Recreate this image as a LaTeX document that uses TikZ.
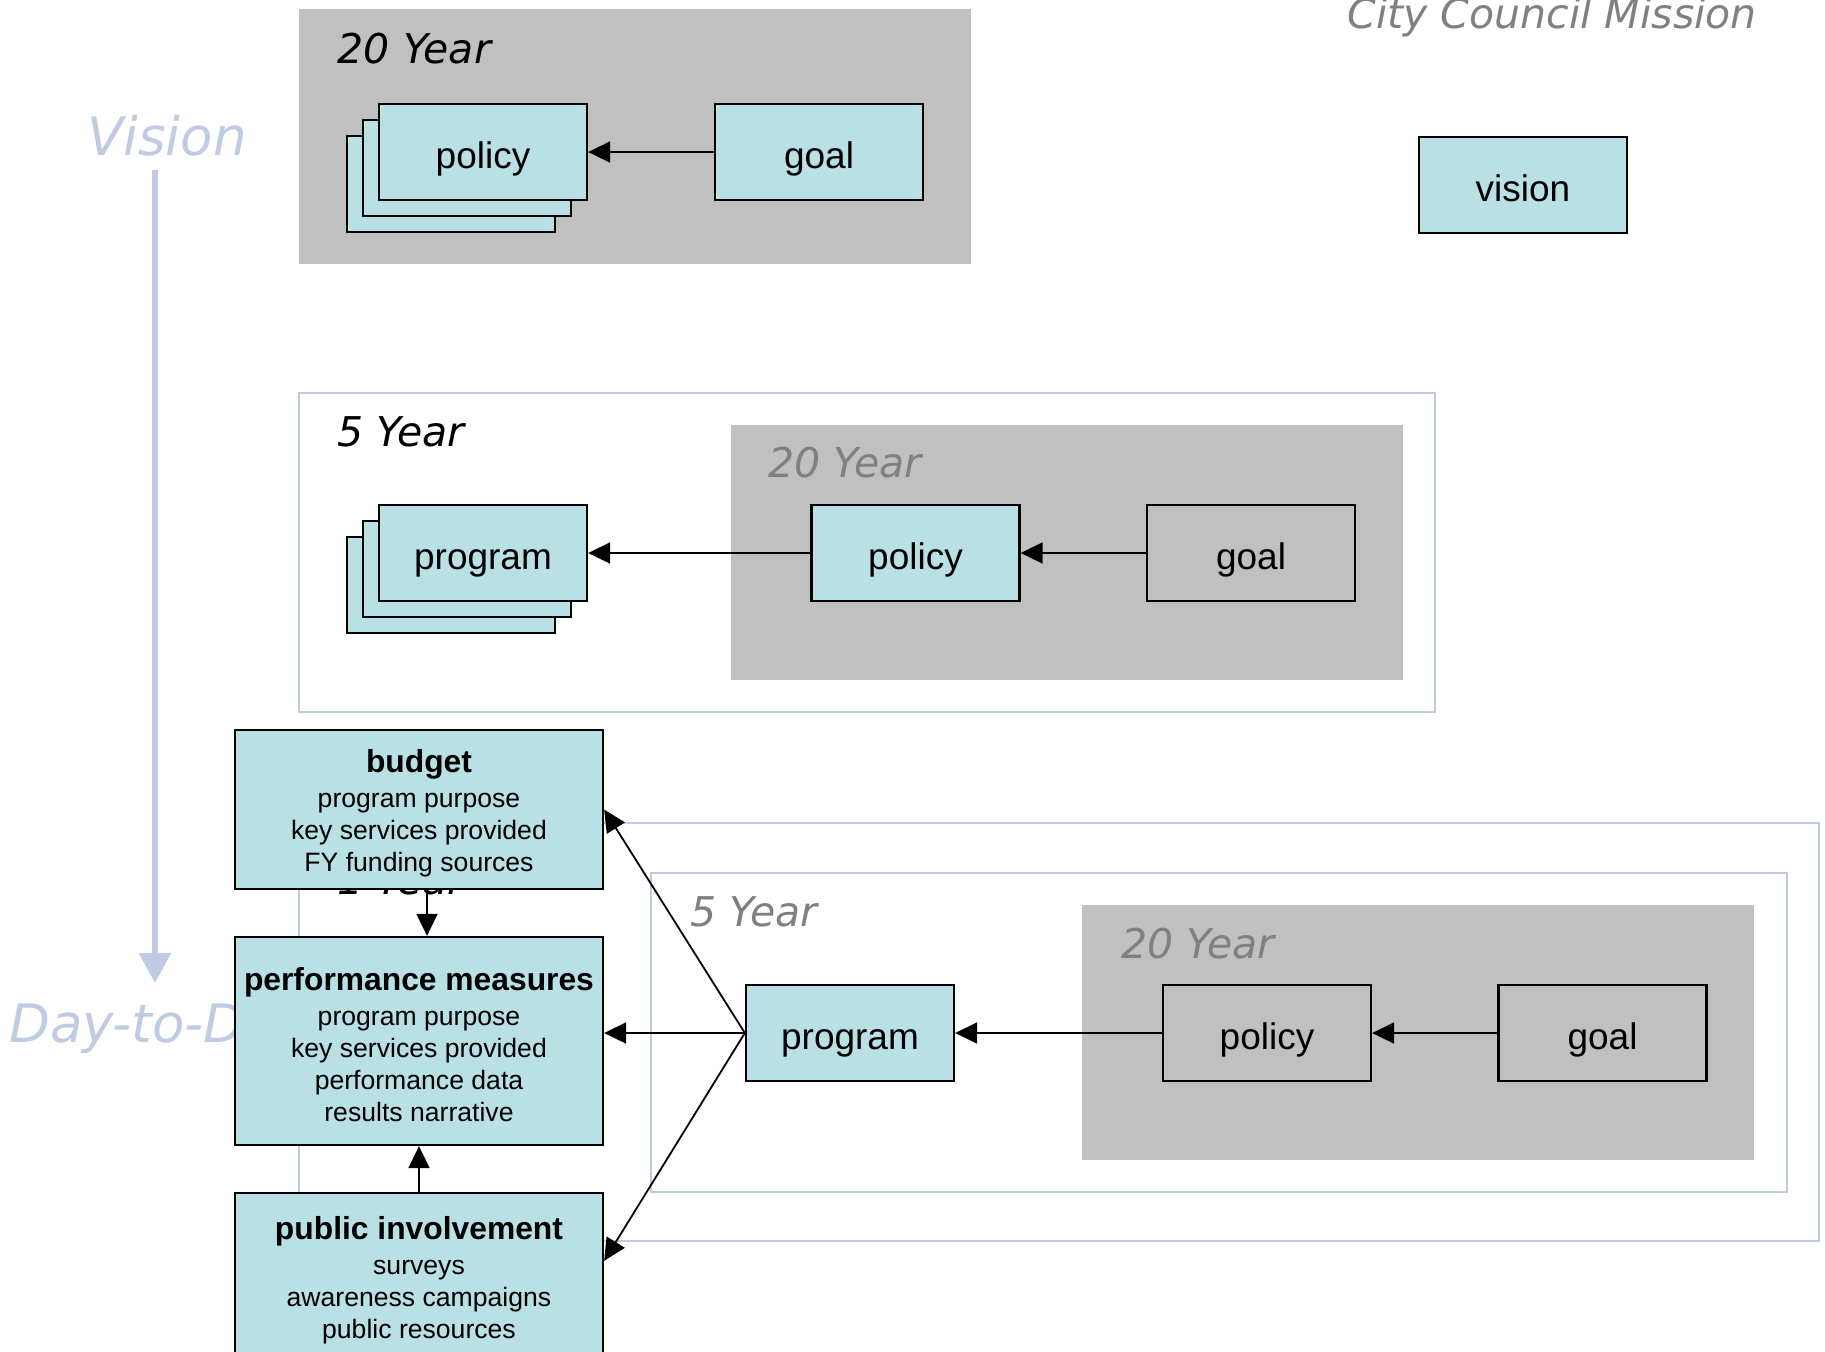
\documentclass[tikz,border=0pt]{standalone}
\usepackage{fontspec}
\setmainfont{Liberation Sans}
\newfontfamily\tagfont{DejaVu Sans}
\usetikzlibrary{arrows.meta}

\definecolor{boxblue}{RGB}{185,224,228}
\definecolor{panelgray}{RGB}{192,192,192}
\definecolor{framecol}{RGB}{190,203,226}
\definecolor{dimtext}{RGB}{128,128,128}

\tikzset{
  cardbox/.style={draw=black, line width=1.15pt, fill=boxblue,
    minimum width=104pt, minimum height=48pt, inner sep=0pt,
    text height=16pt, text depth=0pt,
    font=\fontsize{18.5}{22}\selectfont},
  graycard/.style={cardbox, fill=panelgray},
  infobox/.style={draw=black, line width=1.15pt, fill=boxblue,
    minimum width=184pt, inner sep=0pt, align=center,
    font=\fontsize{13.3}{16}\selectfont},
  flow/.style={line width=0.9pt, -{Triangle[length=11pt,width=10.5pt]}},
  period/.style={font=\tagfont\itshape\fontsize{20.5}{24}\selectfont,
    anchor=west, inner sep=0pt},
  periodframe/.style={draw=framecol, line width=1pt},
  graypanel/.style={fill=panelgray},
  scaletext/.style={font=\tagfont\itshape\fontsize{26.5}{30}\selectfont,
    text=framecol, inner sep=0pt},
}
% heading line of a document box, with a strut that sets its top
\newcommand{\boxhead}[1]{{\bfseries\fontsize{15.9}{18}\selectfont\rule{0pt}{15.1pt}#1}}

\begin{document}
\begin{tikzpicture}[x=0.5pt, y=-0.5pt]
\useasboundingbox (0,0) rectangle (1825,1351);

% ---- planning horizon scale on the left
\node[scaletext, anchor=west] (visiontag) at (87,136) {Vision};
\node[scaletext, anchor=base west] (daytag) at (9,1042) {Day-to-Day};
\coordinate (scaletop) at (155,170);
\coordinate (scalebot) at (155,983);
\draw[framecol, line width=2.8pt, -{Triangle[length=15pt,width=15.5pt]}] (scaletop) -- (scalebot);

% ---- mission heading and vision
\node[font=\tagfont\itshape\fontsize{20.5}{24}\selectfont, text=dimtext,
      anchor=base west, inner sep=0pt] (mission) at (1347,28) {City Council Mission};
\node[cardbox] (vision) at (1523,185) {vision};

% ---- 20 year plan
\fill[graypanel] (299,9) rectangle (971,264);
\node[period] (tagA) at (337.5,49) {20 Year};
\node[cardbox] (policyAc) at (451,184) {};
\node[cardbox] (policyAb) at (467,168) {};
\node[cardbox] (policyA) at (483,152) {policy};
\node[cardbox] (goalA) at (819,152) {goal};
\draw[flow] (goalA) -- (policyA);

% ---- 5 year plan
\draw[periodframe] (299,393) rectangle (1435,712);
\node[period] (tagB) at (337.5,432) {5 Year};
\fill[graypanel] (731,425) rectangle (1403,680);
\node[period, text=dimtext] (tagBi) at (768,463) {20 Year};
\node[cardbox] (programBc) at (451,585) {};
\node[cardbox] (programBb) at (467,569) {};
\node[cardbox] (programB) at (483,553) {program};
\node[cardbox] (policyB) at (915.5,553) {policy};
\node[graycard] (goalB) at (1251,553) {goal};
\draw[flow] (goalB) -- (policyB);
\draw[flow] (policyB) -- (programB);

% ---- 1 year plan
\draw[periodframe] (299,823) rectangle (1819,1241);
\node[period, anchor=base west] (tagC) at (337.5,894) {1 Year};
\draw[periodframe] (651,873) rectangle (1787,1192);
\node[period, text=dimtext] (tagCi) at (690,912) {5 Year};
\fill[graypanel] (1082,905) rectangle (1754,1160);
\node[period, text=dimtext] (tagCii) at (1121,944) {20 Year};
\node[cardbox] (programC) at (850,1033) {program};
\node[graycard] (policyC) at (1267,1033) {policy};
\node[graycard] (goalC) at (1602.5,1033) {goal};
\draw[flow] (goalC) -- (policyC);
\draw[flow] (policyC) -- (programC);

% ---- yearly documents
\node[infobox, minimum height=79.5pt] (budget) at (419,809.5)
  {\boxhead{budget}\\[1.2pt]
   program purpose\\ key services provided\\ FY funding sources};
\node[infobox, minimum height=104pt] (perf) at (419,1041)
  {\boxhead{performance measures}\\[1.2pt]
   program purpose\\ key services provided\\ performance data\\ results narrative};
\node[infobox, minimum height=83.5pt] (public) at (419,1276.5)
  {\boxhead{public involvement}\\[1.2pt]
   surveys\\ awareness campaigns\\ public resources};

\draw[flow] ([xshift=4pt]budget.south) -- ([xshift=4pt]perf.north);
\draw[flow] (public.north) -- (perf.south);
\draw[flow] (programC.west) -- (budget.east);
\draw[flow] (programC.west) -- (programC.west -| perf.east);
\draw[flow] (programC.west) -- ([yshift=-34.5pt]public.north east);
\end{tikzpicture}
\end{document}
